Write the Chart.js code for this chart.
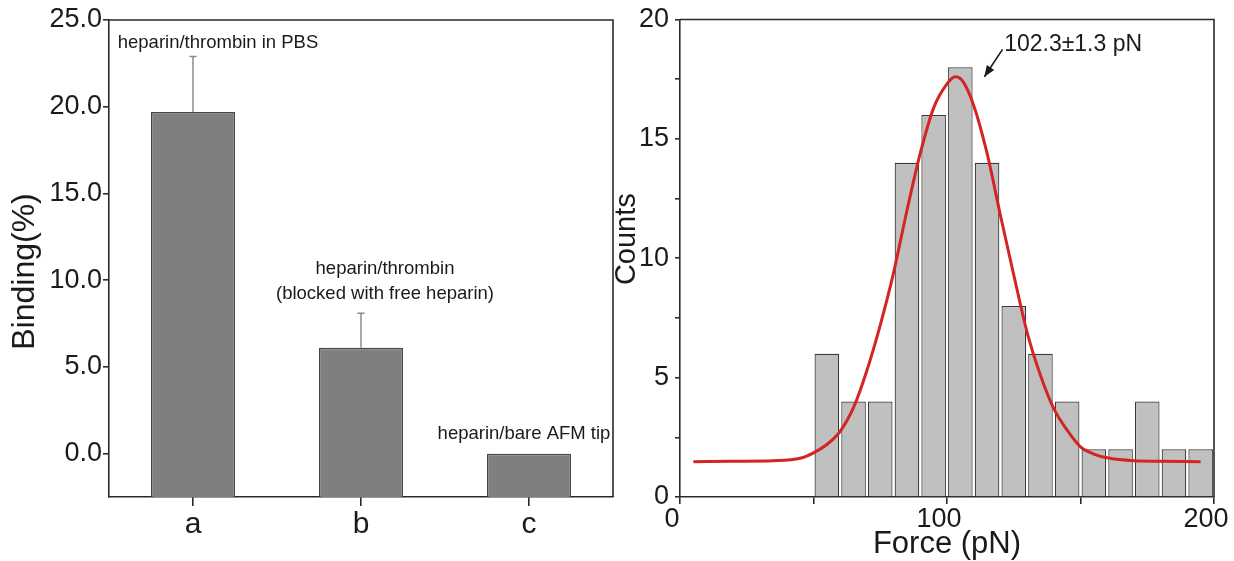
<!DOCTYPE html>
<html><head><meta charset="utf-8">
<script src="https://cdn.jsdelivr.net/npm/chart.js@4.4.1/dist/chart.umd.min.js"></script>
<style>
html,body{margin:0;padding:0;background:#fff;}
#wrap{position:relative;width:1234px;height:561px;overflow:hidden;background:#fff;}
#c1{position:absolute;left:0;top:0;}
#c2{position:absolute;left:606px;top:0;}
</style></head><body>
<div id="wrap"><canvas id="c1" width="620" height="561"></canvas><canvas id="c2" width="628" height="561"></canvas></div>
<script>
// ---------- Left panel: binding ----------
const bindingCategories = ['a', 'b', 'c'];
const bindingValues = [19.7, 6.1, 0.0];
const bindingErrorsUp = [3.2, 2.0, 0.0];
const bindingTicks = [0, 5, 10, 15, 20, 25];
const bindingAxisMin = -2.5;
const bindingAxisMax = 25;
const bindingTitle = 'Binding(%)';
const bindingNotes = [
  ['heparin/thrombin in PBS'],
  ['heparin/thrombin', '(blocked with free heparin)'],
  ['heparin/bare AFM tip']
];

// ---------- Right panel: force histogram ----------
const forceBinCenters = [55, 65, 75, 85, 95, 105, 115, 125, 135, 145, 155, 165, 175, 185, 195];
const forceCounts = [6, 4, 4, 14, 16, 18, 14, 8, 6, 4, 2, 2, 4, 2, 2];
const fitForce = [5, 20, 35, 45, 50, 55, 60, 65, 70, 75, 80, 85, 90, 95, 100, 103, 106, 110, 115, 120, 125, 130, 135, 140, 145, 150, 155, 160, 170, 180, 195];
const fitCounts = [1.48, 1.5, 1.52, 1.62, 1.85, 2.2, 2.75, 3.75, 5.3, 7.2, 9.4, 12.0, 14.4, 16.3, 17.3, 17.6, 17.4, 16.4, 14.4, 11.8, 9.3, 6.9, 5.1, 3.7, 2.8, 2.1, 1.8, 1.64, 1.52, 1.5, 1.48];
const countTicks = [0, 2.5, 5, 7.5, 10, 12.5, 15, 17.5, 20];
const forceTicks = [0, 50, 100, 150, 200];
const countsTitle = 'Counts';
const peakLabel = '102.3\u00b11.3 pN';

const FONT = '"Liberation Sans", Arial, sans-serif';
const AXIS = '#2a2a2a';
const TEXT = '#1a1a1a';

const boxPlugin = {
  id: 'box',
  afterDraw(chart) {
    const {ctx, chartArea: a} = chart;
    ctx.save();
    ctx.strokeStyle = AXIS;
    ctx.lineWidth = 1.6;
    ctx.beginPath();
    ctx.moveTo(a.left, a.top);
    ctx.lineTo(a.right, a.top);
    ctx.lineTo(a.right, a.bottom);
    ctx.stroke();
    ctx.restore();
  }
};

// rotated y-axis title, placed at a given canvas x and a value position on the y scale
function yTitlePlugin(text, size, px, value) {
  return {
    id: 'ytitle',
    afterDraw(chart) {
      const {ctx} = chart;
      const py = chart.scales.y.getPixelForValue(value);
      ctx.save();
      ctx.translate(px, py);
      ctx.rotate(-Math.PI / 2);
      ctx.fillStyle = TEXT;
      ctx.font = size + 'px ' + FONT;
      ctx.textAlign = 'center';
      ctx.textBaseline = 'middle';
      ctx.fillText(text, 0, 0);
      ctx.restore();
    }
  };
}

const errorBarPlugin = {
  id: 'errbars',
  afterDatasetsDraw(chart) {
    const {ctx} = chart;
    const y = chart.scales.y;
    const meta = chart.getDatasetMeta(0);
    ctx.save();
    ctx.strokeStyle = '#8a8a8a';
    ctx.lineWidth = 1.5;
    meta.data.forEach((bar, i) => {
      const e = bindingErrorsUp[i];
      if (!e) return;
      const y0 = y.getPixelForValue(bindingValues[i]);
      const y1 = y.getPixelForValue(bindingValues[i] + e);
      ctx.beginPath();
      ctx.moveTo(bar.x, y0);
      ctx.lineTo(bar.x, y1);
      ctx.moveTo(bar.x - 3.5, y1);
      ctx.lineTo(bar.x + 3.5, y1);
      ctx.stroke();
    });
    ctx.restore();
  }
};

const leftNotesPlugin = {
  id: 'leftNotes',
  afterDraw(chart) {
    const {ctx} = chart;
    const x = chart.scales.x, y = chart.scales.y;
    ctx.save();
    ctx.fillStyle = TEXT;
    ctx.font = '18.5px ' + FONT;
    ctx.textAlign = 'center';
    ctx.textBaseline = 'middle';
    // [category index, x offset px, value of first line, line step in value]
    const anchors = [[0, 25, 23.7, 0], [1, 24, 10.65, 1.45], [2, -5, 1.15, 0]];
    anchors.forEach(([ci, dx, v, step], k) => {
      const px = x.getPixelForValue(ci) + dx;
      bindingNotes[k].forEach((line, j) => {
        ctx.fillText(line, px, y.getPixelForValue(v - j * step));
      });
    });
    ctx.restore();
  }
};

const rightNotePlugin = {
  id: 'rightNote',
  afterDraw(chart) {
    const {ctx} = chart;
    const x = chart.scales.x, y = chart.scales.y;
    const tx = x.getPixelForValue(121.4), ty = y.getPixelForValue(18.95);
    ctx.save();
    ctx.fillStyle = TEXT;
    ctx.font = '23px ' + FONT;
    ctx.textAlign = 'left';
    ctx.textBaseline = 'middle';
    ctx.fillText(peakLabel, tx, ty);
    // arrow
    const ax0 = x.getPixelForValue(120.8), ay0 = y.getPixelForValue(18.75);
    const ax1 = x.getPixelForValue(114.0), ay1 = y.getPixelForValue(17.6);
    ctx.strokeStyle = TEXT;
    ctx.lineWidth = 1.6;
    ctx.beginPath();
    ctx.moveTo(ax0, ay0);
    ctx.lineTo(ax1, ay1);
    ctx.stroke();
    const ang = Math.atan2(ay1 - ay0, ax1 - ax0);
    const L = 12, W = 0.38;
    ctx.beginPath();
    ctx.moveTo(ax1, ay1);
    ctx.lineTo(ax1 - L * Math.cos(ang - W), ay1 - L * Math.sin(ang - W));
    ctx.lineTo(ax1 - L * Math.cos(ang + W), ay1 - L * Math.sin(ang + W));
    ctx.closePath();
    ctx.fill();
    ctx.restore();
  }
};

Chart.defaults.font.family = FONT;
Chart.defaults.color = TEXT;

new Chart(document.getElementById('c1'), {
  type: 'bar',
  data: {
    labels: bindingCategories,
    datasets: [{
      data: bindingValues,
      base: bindingAxisMin,
      backgroundColor: '#7f7f7f',
      borderColor: '#474747',
      borderWidth: 1.5,
      barPercentage: 0.5,
      categoryPercentage: 1.0
    }]
  },
  options: {
    responsive: false,
    animation: false,
    layout: {padding: {top: 20, right: 7, left: 0, bottom: 0}},
    plugins: {legend: {display: false}, tooltip: {enabled: false}},
    scales: {
      x: {
        offset: true,
        grid: {display: true, drawOnChartArea: false, drawTicks: true, tickLength: 9, offset: false, color: AXIS, lineWidth: 1.6},
        border: {display: true, color: AXIS, width: 1.6},
        ticks: {font: {size: 30, lineHeight: 1.2}, padding: 1, color: TEXT},
        afterFit(s) { s.height = 64; }
      },
      y: {
        min: bindingAxisMin,
        max: bindingAxisMax,
        afterBuildTicks(s) { s.ticks = bindingTicks.map(v => ({value: v})); },
        grid: {display: true, drawOnChartArea: false, drawTicks: true, tickLength: 6, color: AXIS, lineWidth: 1.6},
        border: {display: true, color: AXIS, width: 1.6},
        ticks: {font: {size: 27, lineHeight: 1}, padding: 1, color: TEXT, callback: v => Number(v).toFixed(1)},
        title: {display: false, text: bindingTitle},
        afterFit(s) { s.width = 109; }
      }
    }
  },
  plugins: [boxPlugin, errorBarPlugin, leftNotesPlugin, yTitlePlugin(bindingTitle, 32, 25, 10.5)]
});

new Chart(document.getElementById('c2'), {
  type: 'bar',
  data: {
    datasets: [
      {
        type: 'line',
        data: fitForce.map((f, i) => ({x: f, y: fitCounts[i]})),
        borderColor: '#d42424',
        borderWidth: 3,
        pointRadius: 0,
        cubicInterpolationMode: 'monotone',
        fill: false,
        order: 0
      },
      {
        type: 'bar',
        data: forceBinCenters.map((f, i) => ({x: f, y: forceCounts[i]})),
        backgroundColor: '#c0c0c0',
        borderColor: '#383838',
        borderWidth: 1.2,
        barPercentage: 0.92,
        categoryPercentage: 1.0,
        order: 1
      }
    ]
  },
  options: {
    responsive: false,
    animation: false,
    layout: {padding: {top: 18, right: 20, left: 0, bottom: 0}},
    plugins: {legend: {display: false}, tooltip: {enabled: false}},
    scales: {
      x: {
        type: 'linear',
        min: 0,
        max: 200,
        offset: false,
        afterBuildTicks(s) { s.ticks = forceTicks.map(v => ({value: v})); },
        grid: {display: true, drawOnChartArea: false, drawTicks: true, tickLength: 7, offset: false, color: AXIS, lineWidth: 1.6},
        border: {display: true, color: AXIS, width: 1.6},
        ticks: {font: {size: 27, lineHeight: 1}, padding: 2, labelOffset: -8, color: TEXT, maxRotation: 0, autoSkip: false,
                callback: v => (v % 100 === 0 ? String(v) : '')},
        title: {display: true, text: 'Force (pN)', font: {size: 31, lineHeight: 1}, padding: {top: 0, bottom: 1}, color: TEXT},
        afterFit(s) { s.height = 64; s.paddingRight = 0; s.paddingLeft = 0; }
      },
      y: {
        min: 0,
        max: 20,
        afterBuildTicks(s) { s.ticks = countTicks.map(v => ({value: v})); },
        grid: {display: true, drawOnChartArea: false, drawTicks: true, tickLength: 5, color: AXIS, lineWidth: 1.6},
        border: {display: true, color: AXIS, width: 1.6},
        ticks: {font: {size: 27, lineHeight: 1}, padding: 6, color: TEXT, autoSkip: false,
                callback: v => (v % 5 === 0 ? String(v) : '')},
        title: {display: false, text: countsTitle},
        afterFit(s) { s.width = 74; }
      }
    }
  },
  plugins: [boxPlugin, rightNotePlugin, yTitlePlugin(countsTitle, 29, 21, 10.8)]
});
</script>
</body></html>
